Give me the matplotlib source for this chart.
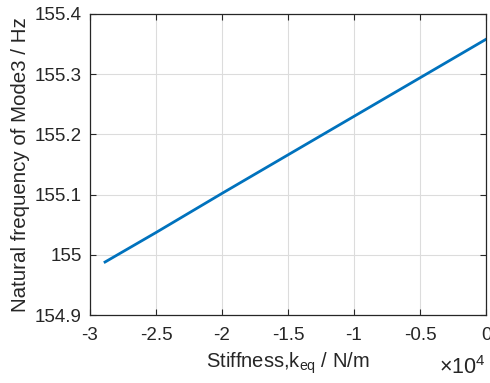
import matplotlib.pyplot as plt
from matplotlib.ticker import FuncFormatter

plt.rcParams['font.family'] = ['Liberation Sans', 'DejaVu Sans']
plt.rcParams['mathtext.fontset'] = 'custom'
plt.rcParams['mathtext.rm'] = 'Liberation Sans'
plt.rcParams['mathtext.it'] = 'Liberation Sans'

# equivalent stiffness (N/m) vs. mode 3 natural frequency (Hz)
stiffness = [-28860, -25000, -20000, -15000, -10000, -5000, 0]
freq = [154.988, 155.037, 155.102, 155.166, 155.230, 155.294, 155.358]

x_ticks = [-30000, -25000, -20000, -15000, -10000, -5000, 0]
y_ticks = [154.9, 155.0, 155.1, 155.2, 155.3, 155.4]

fig = plt.figure(figsize=(4.9, 3.83), dpi=100)
ax = fig.add_axes([90 / 490, 1 - 315 / 383, 396 / 490, 301 / 383])

ax.plot(stiffness, freq, color='#0072BD', lw=2)

ax.set_xlim(-30000, 0)
ax.set_ylim(154.9, 155.4)
ax.set_xticks(x_ticks)
ax.set_yticks(y_ticks)
ax.xaxis.set_major_formatter(FuncFormatter(lambda v, p: '%g' % (v / 1e4)))
ax.yaxis.set_major_formatter(FuncFormatter(lambda v, p: '%g' % round(v, 1)))

ax.grid(True, color='#dcdcdc', lw=0.8)
ax.set_axisbelow(True)
ax.tick_params(direction='in', top=True, right=True, length=4, width=0.8,
               colors='#262626', labelsize=13.5)
ax.tick_params(axis='x', pad=9)
ax.tick_params(axis='y', pad=6)
for s in ax.spines.values():
    s.set_color('#262626')
    s.set_linewidth(0.9)

ax.set_xlabel('Stiffness,k$_{\\mathregular{eq}}$ / N/m', fontsize=14.5, color='#262626', labelpad=4)
ax.set_ylabel('Natural frequency of Mode3 / Hz', fontsize=14.8, color='#262626', labelpad=3)
ax.text(1.0, -0.176, '$\\times$10$^{4}$', transform=ax.transAxes, ha='right', va='center',
        fontsize=15.5, color='#262626')

fig.savefig('out.png', dpi=100)
